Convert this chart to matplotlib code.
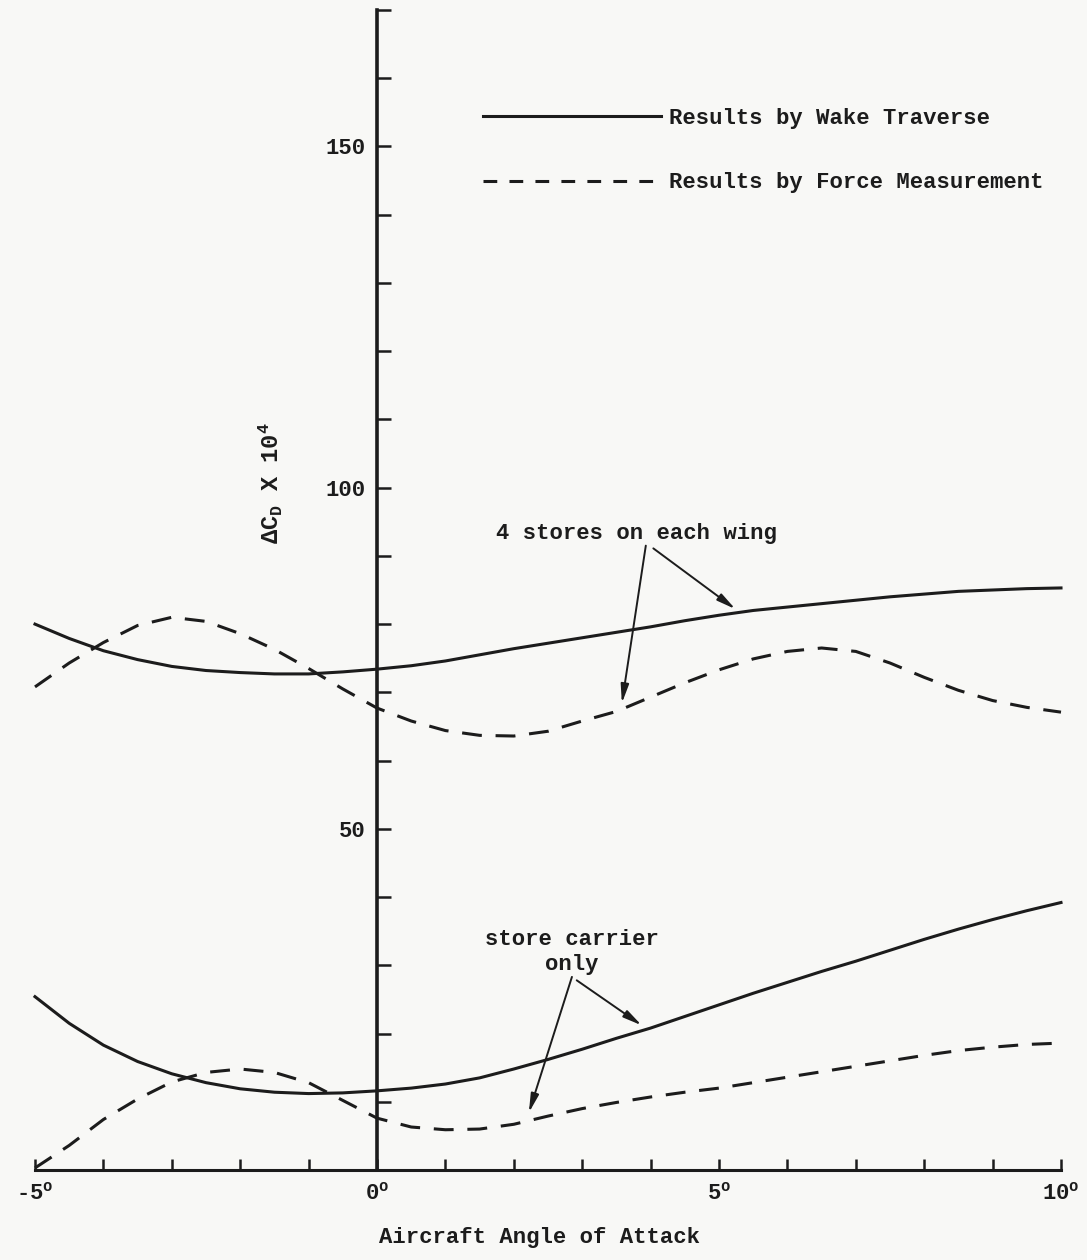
import matplotlib
matplotlib.use("Agg")
import matplotlib.pyplot as plt
from matplotlib.lines import Line2D

plt.rcParams['font.family'] = ['Liberation Mono', 'DejaVu Sans']
plt.rcParams['font.size'] = 16
plt.rcParams['font.weight'] = 'bold'

# angle of attack (deg), read every half degree
angle = [-5.0, -4.5, -4.0, -3.5, -3.0, -2.5, -2.0, -1.5, -1.0, -0.5, 0.0, 0.5, 1.0, 1.5, 2.0, 2.5,
         3.0, 3.5, 4.0, 4.5, 5.0, 5.5, 6.0, 6.5, 7.0, 7.5, 8.0, 8.5, 9.0, 9.5, 10.0]

# drag increment x 10^4, 4 stores on each wing
wake_4 = [80.0, 77.9, 76.1, 74.8, 73.8, 73.2, 72.9, 72.7, 72.7, 73.0, 73.4, 73.9, 74.6, 75.5, 76.4, 77.2,
          78.0, 78.8, 79.6, 80.5, 81.3, 82.0, 82.5, 83.0, 83.5, 84.0, 84.4, 84.8, 85.0, 85.2, 85.3]
force_4 = [70.8, 74.3, 77.3, 79.8, 81.0, 80.4, 78.6, 76.3, 73.5, 70.5, 67.7, 65.8, 64.4, 63.7, 63.6, 64.3,
           65.8, 67.2, 69.3, 71.4, 73.3, 74.9, 76.0, 76.5, 76.0, 74.3, 72.2, 70.3, 68.8, 67.8, 67.1]

# drag increment x 10^4, store carrier only
wake_sc = [25.4, 21.5, 18.3, 15.9, 14.1, 12.8, 11.9, 11.4, 11.2, 11.3, 11.6, 12.0, 12.6, 13.5, 14.8, 16.2,
           17.7, 19.3, 20.8, 22.5, 24.2, 25.9, 27.5, 29.1, 30.6, 32.2, 33.8, 35.3, 36.7, 38.0, 39.2]
force_sc = [0.3, 3.6, 7.4, 10.4, 12.9, 14.3, 14.8, 14.3, 12.8, 10.2, 7.6, 6.3, 5.9, 6.0, 6.7, 7.9,
            9.0, 9.9, 10.7, 11.4, 12.0, 12.8, 13.6, 14.4, 15.2, 16.0, 16.8, 17.5, 18.0, 18.4, 18.6]

x_ticks = [-5, 0, 5, 10]
x_labels = ['-5$\\mathregular{^o}$', '0$\\mathregular{^o}$', '5$\\mathregular{^o}$', '10$\\mathregular{^o}$']
y_ticks = [50, 100, 150]

ink = '#1c1c1c'
dash = (6.5, 4.5)

fig = plt.figure(figsize=(10.87, 12.6), dpi=100, facecolor='#f8f8f6')
ax = fig.add_axes([35/1087, 1 - 1170/1260, 1026/1087, 1160/1260])
ax.set_facecolor('none')

line_kw = dict(color=ink, lw=2.2, clip_on=False, solid_joinstyle='round',
               dash_joinstyle='round', dash_capstyle='butt')
ax.plot(angle, wake_4, **line_kw)
ax.plot(angle, force_4, dashes=dash, **line_kw)
ax.plot(angle, wake_sc, **line_kw)
ax.plot(angle, force_sc, dashes=dash, **line_kw)

ax.set_xlim(-5, 10)
ax.set_ylim(0, 170)

# axes drawn through the origin
ax.spines['left'].set_position(('data', 0))
ax.spines['bottom'].set_position(('data', 0))
ax.spines['top'].set_visible(False)
ax.spines['right'].set_visible(False)
ax.spines['left'].set_linewidth(2.6)
ax.spines['bottom'].set_linewidth(2.2)
ax.spines['left'].set_color(ink)
ax.spines['bottom'].set_color(ink)

ax.set_xticks(x_ticks)
ax.set_xticklabels(x_labels)
ax.set_xticks(range(-5, 11), minor=True)
ax.set_yticks(y_ticks)
ax.set_yticks(range(10, 171, 10), minor=True)
ax.tick_params(axis='both', which='both', direction='in', color=ink, width=1.8, labelcolor=ink)
ax.tick_params(axis='x', which='both', length=8, pad=9)
ax.tick_params(axis='y', which='both', length=10, pad=8)

ax.text(0.492, -0.058, 'Aircraft Angle of Attack', transform=ax.transAxes,
        ha='center', va='center', color=ink)
ax.text(-1.55, 100.7, 'Δ$\\mathregular{C_D}$ X 10$\\mathregular{^4}$', rotation=90,
        ha='center', va='center', color=ink, fontsize=17)

# legend
handles = [Line2D([], [], color=ink, lw=2.2),
           Line2D([], [], color=ink, lw=2.2, dashes=(4.5, 4.0))]
ax.legend(handles, ['Results by Wake Traverse', 'Results by Force Measurement'],
          loc='upper left', bbox_to_anchor=(483/1087, 1 - 108/1260),
          bbox_transform=fig.transFigure, frameon=False, borderpad=0,
          borderaxespad=0, handlelength=8, handletextpad=0.35, labelspacing=1.95,
          labelcolor=ink)

# curve labels with pointers
arrow = dict(arrowstyle='-|>,head_length=0.7,head_width=0.15', color=ink, lw=1.4,
             shrinkA=0, shrinkB=0)
ax.text(3.8, 93.3, '4 stores on each wing', ha='center', va='center', color=ink)
ax.annotate('', xy=(3.58, 68.4), xytext=(3.93, 91.5), arrowprops=arrow)
ax.annotate('', xy=(5.24, 82.2), xytext=(4.04, 91.1), arrowprops=arrow)

ax.text(2.85, 32.0, 'store carrier\nonly', ha='center', va='center', color=ink,
        multialignment='center', linespacing=1.25)
ax.annotate('', xy=(2.22, 8.4), xytext=(2.85, 28.3), arrowprops=arrow)
ax.annotate('', xy=(3.87, 21.2), xytext=(2.92, 27.8), arrowprops=arrow)

fig.savefig('out.png', dpi=100, facecolor=fig.get_facecolor())
